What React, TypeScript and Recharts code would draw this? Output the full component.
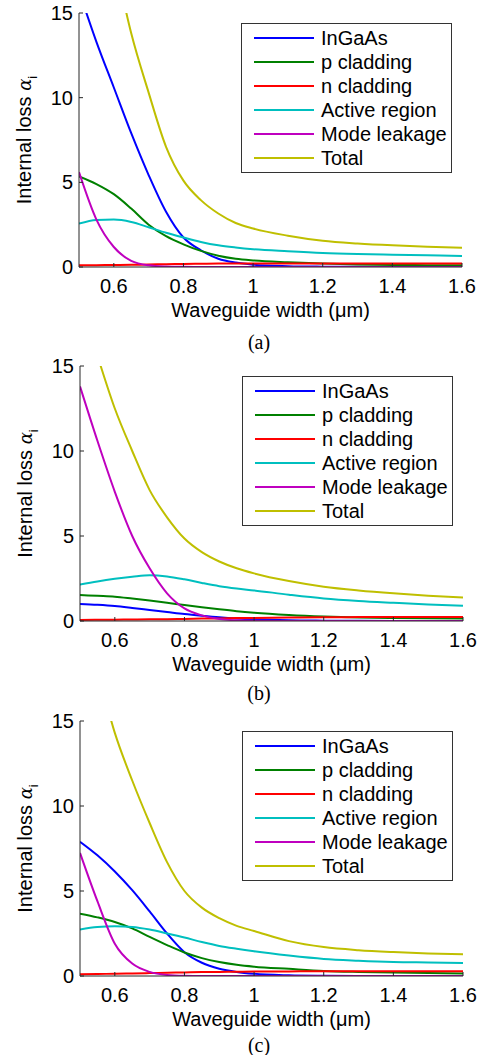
import React from "react";
import { Legend, Line, LineChart, XAxis, YAxis } from "recharts";

const widths = [0.5, 0.55, 0.6, 0.65, 0.7, 0.75, 0.8, 0.85, 0.9, 0.95, 1.0, 1.1, 1.2, 1.3, 1.4, 1.5, 1.6];

const seriesNames = ["InGaAs", "p cladding", "n cladding", "Active region", "Mode leakage", "Total"];
const seriesColors = ["#0000ff", "#008000", "#ff0000", "#00bfbf", "#bf00bf", "#bfbf00"];

const xTicks = [0.6, 0.8, 1, 1.2, 1.4, 1.6];
const yTicks = [0, 5, 10, 15];

// panel (a)
const ingaasA = [16.3, 13.3, 10.6, 7.9, 5.43, 3.26, 1.74, 0.99, 0.49, 0.26, 0.14, 0.05, 0.02, 0.01, 0, 0, 0];
const pCladA = [5.35, 4.9, 4.3, 3.45, 2.5, 1.82, 1.34, 0.95, 0.67, 0.49, 0.39, 0.28, 0.2, 0.15, 0.12, 0.11, 0.1];
const nCladA = [0.1, 0.11, 0.12, 0.13, 0.15, 0.16, 0.18, 0.19, 0.2, 0.2, 0.21, 0.21, 0.21, 0.21, 0.21, 0.21, 0.21];
const activeA = [2.56, 2.78, 2.8, 2.66, 2.35, 2.02, 1.74, 1.48, 1.28, 1.15, 1.05, 0.93, 0.83, 0.77, 0.73, 0.69, 0.65];
const leakA = [5.6, 2.8, 1.18, 0.36, 0.1, 0.03, 0.01, 0, 0, 0, 0, 0, 0, 0, 0, 0, 0];
const totalA = [30, 23.5, 18.4, 13.8, 10.3, 7.1, 5.1, 3.95, 3.16, 2.6, 2.27, 1.85, 1.55, 1.39, 1.28, 1.2, 1.14];

// panel (b)
const ingaasB = [1.0, 0.95, 0.88, 0.77, 0.65, 0.53, 0.41, 0.31, 0.22, 0.15, 0.1, 0.04, 0.02, 0.01, 0, 0, 0];
const pCladB = [1.53, 1.48, 1.43, 1.32, 1.2, 1.07, 0.94, 0.81, 0.69, 0.58, 0.49, 0.36, 0.27, 0.21, 0.18, 0.16, 0.15];
const nCladB = [0.06, 0.07, 0.08, 0.09, 0.1, 0.11, 0.12, 0.14, 0.15, 0.17, 0.18, 0.2, 0.22, 0.23, 0.24, 0.24, 0.24];
const activeB = [2.15, 2.33, 2.48, 2.6, 2.69, 2.62, 2.45, 2.24, 2.05, 1.91, 1.8, 1.55, 1.33, 1.18, 1.07, 0.97, 0.9];
const leakB = [13.8, 10.6, 7.6, 5.0, 3.1, 1.63, 0.74, 0.33, 0.12, 0.04, 0.01, 0, 0, 0, 0, 0, 0];
const totalB = [18.8, 15.6, 12.5, 10.0, 7.7, 6.1, 4.85, 4.05, 3.5, 3.1, 2.8, 2.35, 2.02, 1.8, 1.63, 1.49, 1.38];

// panel (c)
const ingaasC = [7.9, 7.1, 6.15, 5.05, 3.8, 2.5, 1.4, 0.78, 0.43, 0.24, 0.13, 0.04, 0.01, 0, 0, 0, 0];
const pCladC = [3.67, 3.45, 3.18, 2.8, 2.3, 1.82, 1.38, 1.05, 0.82, 0.66, 0.55, 0.42, 0.3, 0.24, 0.2, 0.17, 0.15];
const nCladC = [0.1, 0.12, 0.13, 0.15, 0.17, 0.19, 0.21, 0.23, 0.24, 0.25, 0.26, 0.27, 0.28, 0.28, 0.28, 0.28, 0.28];
const activeC = [2.73, 2.88, 2.92, 2.88, 2.73, 2.5, 2.26, 2.0, 1.77, 1.6, 1.45, 1.2, 1.0, 0.9, 0.83, 0.8, 0.77];
const leakC = [7.24, 4.4, 1.9, 0.73, 0.24, 0.06, 0.01, 0, 0, 0, 0, 0, 0, 0, 0, 0, 0];
const totalC = [21.5, 18.0, 14.3, 11.5, 9.0, 6.7, 5.0, 4.02, 3.4, 2.95, 2.65, 2.05, 1.7, 1.52, 1.41, 1.33, 1.28];

const sans = "'Liberation Sans', Arial, Helvetica, sans-serif";
const serif = "'Liberation Serif', 'Times New Roman', serif";
const axisColor = "#262626";

function buildRows(series: number[][]) {
  return widths.map((w, i) => {
    const row: Record<string, number> = { w };
    series.forEach((s, k) => (row[`s${k}`] = s[i]));
    return row;
  });
}

function YTitle(props: any) {
  const vb = props.viewBox || {};
  const cx = vb.x + vb.width - 48;
  const cy = vb.y + vb.height / 2;
  return (
    <text x={cx} y={cy} transform={`rotate(-90 ${cx} ${cy})`} textAnchor="middle" fontSize={20} fill="#000" fontFamily={sans}>
      {"Internal loss "}
      <tspan fontFamily="'DejaVu Serif', serif" fontStyle="italic" fontSize={18}>α</tspan>
      <tspan fontSize={13} dy={6}>i</tspan>
    </text>
  );
}

function XTitle(props: any) {
  const vb = props.viewBox || {};
  return (
    <text x={vb.x + vb.width / 2} y={vb.y + 50} textAnchor="middle" fontSize={20} fill="#000" fontFamily={sans}>
      Waveguide width (μm)
    </text>
  );
}

function LegendBox({ payload }: any) {
  const items = [...(payload || [])].sort((a: any, b: any) => seriesNames.indexOf(a.value) - seriesNames.indexOf(b.value));
  return (
    <div
      style={{
        boxSizing: "border-box",
        width: 211,
        height: 150,
        border: "1px solid #333",
        background: "#fff",
        padding: "2px 0",
        fontFamily: sans,
        fontSize: 20,
        color: "#000",
      }}
    >
      {items.map((it: any) => (
        <div key={it.value} style={{ display: "flex", alignItems: "center", height: 24 }}>
          <div style={{ marginLeft: 12, width: 60, height: 2, background: it.color }} />
          <span style={{ marginLeft: 7, lineHeight: "24px", whiteSpace: "nowrap" }}>{it.value}</span>
        </div>
      ))}
    </div>
  );
}

function Panel({
  top,
  plotLeft,
  plotRight,
  plotHeight,
  series,
  caption,
  captionY,
}: {
  top: number;
  plotLeft: number;
  plotRight: number;
  plotHeight: number;
  series: number[][];
  caption: string;
  captionY: number;
}) {
  const mt = 13;
  const axisH = 70;
  const rows = buildRows(series);
  return (
    <>
      <div style={{ position: "absolute", left: 0, top }}>
        <LineChart
          width={485}
          height={mt + plotHeight + axisH}
          data={rows}
          margin={{ top: mt, right: 485 - plotRight, bottom: 0, left: 0 }}
        >
          <XAxis
            dataKey="w"
            type="number"
            domain={[0.5, 1.6]}
            ticks={xTicks}
            allowDataOverflow
            height={axisH}
            stroke={axisColor}
            tickSize={-4}
            tickMargin={16}
            tick={{ fill: "#000", fontSize: 20, fontFamily: sans }}
            label={{ content: (p: any) => <XTitle {...p} /> }}
          />
          <XAxis
            xAxisId="top"
            orientation="top"
            type="number"
            domain={[0.5, 1.6]}
            ticks={xTicks}
            allowDataOverflow
            height={0}
            stroke={axisColor}
            tickSize={-4}
            tick={false}
          />
          <YAxis
            type="number"
            domain={[0, 15]}
            ticks={yTicks}
            allowDataOverflow
            width={plotLeft}
            stroke={axisColor}
            tickSize={-4}
            tickMargin={10}
            tick={{ fill: "#000", fontSize: 20, fontFamily: sans }}
            label={{ content: (p: any) => <YTitle {...p} /> }}
          />
          <YAxis
            yAxisId="right"
            orientation="right"
            type="number"
            domain={[0, 15]}
            ticks={yTicks}
            allowDataOverflow
            width={0}
            stroke={axisColor}
            tickSize={-4}
            tick={false}
          />
          <Legend
            layout="vertical"
            align="center"
            verticalAlign="middle"
            wrapperStyle={{ left: plotLeft + 162, top: mt + 10, width: 211 }}
            content={(p: any) => <LegendBox {...p} />}
          />
          {seriesNames.map((name, k) => (
            <Line
              key={name}
              type="monotone"
              dataKey={`s${k}`}
              name={name}
              stroke={seriesColors[k]}
              strokeWidth={2}
              dot={false}
              activeDot={false}
              isAnimationActive={false}
            />
          ))}
        </LineChart>
      </div>
      <div
        style={{
          position: "absolute",
          left: 229,
          width: 60,
          top: captionY - 12,
          height: 24,
          lineHeight: "24px",
          textAlign: "center",
          fontFamily: serif,
          fontSize: 20,
          color: "#000",
        }}
      >
        {caption}
      </div>
    </>
  );
}

export default function App() {
  return (
    <div style={{ position: "absolute", left: 0, top: 0, width: 485, height: 1055, background: "#fff" }}>
      <Panel
        top={0}
        plotLeft={79}
        plotRight={462}
        plotHeight={254}
        series={[ingaasA, pCladA, nCladA, activeA, leakA, totalA]}
        caption="(a)"
        captionY={342}
      />
      <Panel
        top={353}
        plotLeft={80}
        plotRight={463}
        plotHeight={255}
        series={[ingaasB, pCladB, nCladB, activeB, leakB, totalB]}
        caption="(b)"
        captionY={693}
      />
      <Panel
        top={708}
        plotLeft={80}
        plotRight={463}
        plotHeight={255}
        series={[ingaasC, pCladC, nCladC, activeC, leakC, totalC]}
        caption="(c)"
        captionY={1045}
      />
    </div>
  );
}
